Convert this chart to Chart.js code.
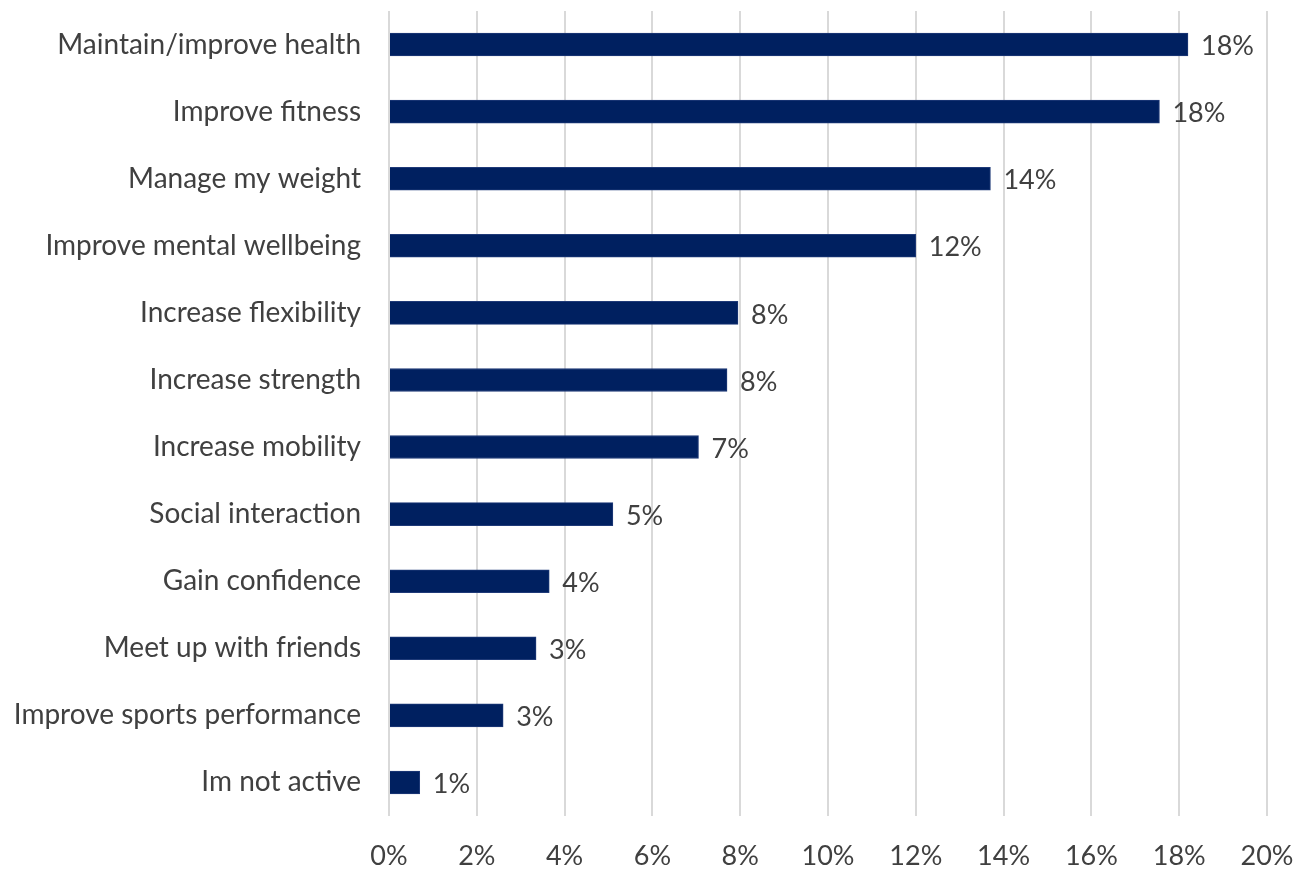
<!DOCTYPE html>
<html>
<head>
<meta charset="utf-8">
<title>Reasons for being active</title>
<script src="https://cdn.jsdelivr.net/npm/chart.js@4"></script>
<style>
  html, body { margin: 0; padding: 0; background: #fff; }
  #wrap { width: 1296px; height: 871px; }
</style>
</head>
<body>
<div id="wrap"><canvas id="reasons"></canvas></div>
<script>
const reasons = [
  'Maintain/improve health',
  'Improve fitness',
  'Manage my weight',
  'Improve mental wellbeing',
  'Increase flexibility',
  'Increase strength',
  'Increase mobility',
  'Social interaction',
  'Gain confidence',
  'Meet up with friends',
  'Improve sports performance',
  'Im not active'
];
const shares = [18.2, 17.55, 13.7, 12.0, 7.95, 7.7, 7.05, 5.1, 3.65, 3.35, 2.6, 0.7];
const xTicks = [0, 2, 4, 6, 8, 10, 12, 14, 16, 18, 20];

const textColor = '#404040';
const fontFamily = 'Lato, "Open Sans", sans-serif';
const fontSize = 27;

// value labels to the right of each bar
const barLabels = {
  id: 'barLabels',
  afterDatasetsDraw(chart) {
    const ctx = chart.ctx;
    const meta = chart.getDatasetMeta(0);
    ctx.save();
    ctx.fillStyle = textColor;
    ctx.font = fontSize + 'px ' + fontFamily;
    ctx.textAlign = 'left';
    ctx.textBaseline = 'middle';
    meta.data.forEach((bar, i) => {
      ctx.fillText(Math.round(shares[i]) + '%', bar.x + 13, bar.y + 2);
    });
    ctx.restore();
  }
};

new Chart(document.getElementById('reasons'), {
  type: 'bar',
  data: {
    labels: reasons,
    datasets: [{
      data: shares,
      backgroundColor: '#002060',
      borderColor: '#1f3a78',
      borderWidth: 1,
      barThickness: 23
    }]
  },
  options: {
    indexAxis: 'y',
    responsive: true,
    maintainAspectRatio: false,
    animation: false,
    layout: { padding: { top: 11, right: 29, bottom: 0, left: 0 } },
    plugins: {
      legend: { display: false },
      tooltip: { enabled: false }
    },
    scales: {
      x: {
        min: 0,
        max: 20,
        afterBuildTicks(axis) {
          axis.ticks = xTicks.map(v => ({ value: v }));
        },
        ticks: {
          color: textColor,
          font: { family: fontFamily, size: fontSize },
          padding: 24,
          callback: v => v + '%'
        },
        grid: { color: '#d9d9d9', lineWidth: 2, drawTicks: false },
        border: { display: false },
        afterFit(axis) {
          axis.height = 55;
          axis.paddingLeft = 0;
          axis.paddingRight = 0;
        }
      },
      y: {
        ticks: {
          color: textColor,
          font: { family: fontFamily, size: 28 },
          padding: 28,
          autoSkip: false
        },
        grid: { display: false, drawTicks: false },
        border: { display: false },
        afterFit(axis) {
          axis.width = 389;
          axis.paddingTop = 0;
          axis.paddingBottom = 0;
        }
      }
    }
  },
  plugins: [barLabels]
});
</script>
</body>
</html>
